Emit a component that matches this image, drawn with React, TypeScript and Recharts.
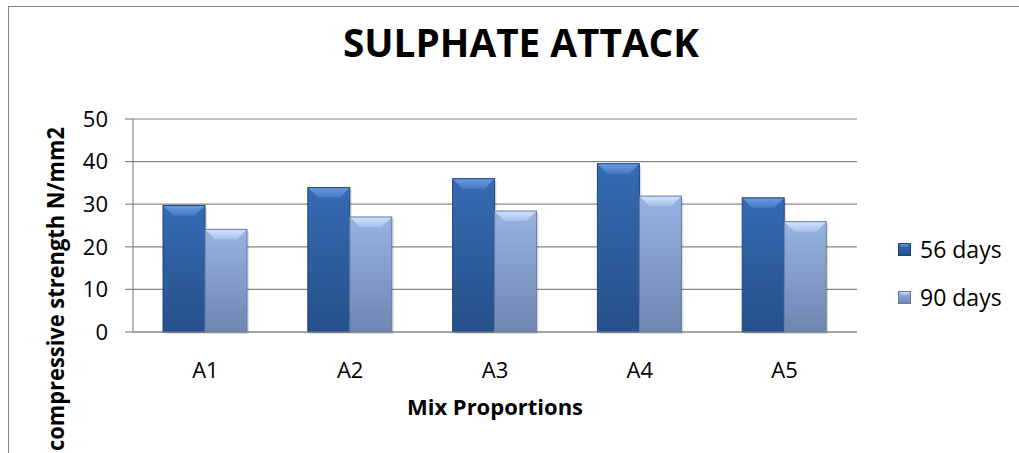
import { BarChart, Bar, XAxis, YAxis, CartesianGrid, Legend } from "recharts";

const categories = ["A1", "A2", "A3", "A4", "A5"];
const days56 = [29.7, 33.9, 36.0, 39.5, 31.5];
const days90 = [24.1, 27.0, 28.4, 31.9, 25.9];
const yTicks = [0, 10, 20, 30, 40, 50];

const data = categories.map((mix, i) => ({
  mix,
  d56: days56[i],
  d90: days90[i],
}));

const FONT = "'Open Sans', 'DejaVu Sans', sans-serif";
const AXIS = "#868686";

const STYLES: Record<string, { body: string; bevel: string; edge: string }> = {
  d56: { body: "url(#body56)", bevel: "url(#bevel56)", edge: "#1f4578" },
  d90: { body: "url(#body90)", bevel: "url(#bevel90)", edge: "#6579a3" },
};

function BevelBar(props: any) {
  const { x, y, width, height, dataKey } = props;
  if (!height || height <= 0) return null;
  const s = STYLES[dataKey];
  const b = Math.min(10, height / 2);
  return (
    <g>
      <rect x={x + 2} y={y + 2} width={width} height={height} fill="#000" opacity={0.12} />
      <rect x={x} y={y} width={width} height={height} fill={s.body} />
      <polygon
        points={`${x},${y} ${x + width},${y} ${x + width - b},${y + b} ${x + b},${y + b}`}
        fill={s.bevel}
      />
      <rect x={x} y={y} width={width} height={height} fill="none" stroke={s.edge} strokeWidth={1} />
    </g>
  );
}

function LegendBox({ payload }: any) {
  return (
    <div style={{ fontFamily: FONT, fontSize: 23, color: "#000" }}>
      {(payload || []).map((p: any) => {
        const s = STYLES[p.dataKey];
        return (
          <div key={p.dataKey} style={{ display: "flex", alignItems: "center", height: 48 }}>
            <svg width={13} height={13} style={{ marginRight: 9 }}>
              <rect x={0} y={0} width={13} height={13} fill={s.body} />
              <polygon points="0,0 13,0 9,4 4,4" fill={s.bevel} />
              <rect x={0.5} y={0.5} width={12} height={12} fill="none" stroke={s.edge} />
            </svg>
            <span>{p.value}</span>
          </div>
        );
      })}
    </div>
  );
}

function YTitle(props: any) {
  const { viewBox } = props;
  const bx = viewBox.x + 64;
  return (
    <text
      x={bx}
      y={127}
      transform={`rotate(-90, ${bx}, 127)`}
      textAnchor="end"
      fontFamily={FONT}
      fontWeight="bold"
      fontSize={24}
      textLength={324}
      lengthAdjust="spacingAndGlyphs"
      fill="#000"
    >
      compressive strength N/mm2
    </text>
  );
}

function XTitle(props: any) {
  const { viewBox } = props;
  return (
    <text
      x={viewBox.x + viewBox.width / 2}
      y={viewBox.y + 83}
      textAnchor="middle"
      fontFamily={FONT}
      fontWeight="bold"
      fontSize={22}
      fill="#000"
    >
      Mix Proportions
    </text>
  );
}

export default function App() {
  return (
    <div
      style={{
        position: "absolute",
        left: 0,
        top: 0,
        width: 1019,
        height: 453,
        background: "#fff",
        fontFamily: FONT,
        overflow: "hidden",
      }}
    >
      <div
        style={{
          position: "absolute",
          left: 8,
          top: 6,
          right: -2,
          bottom: -2,
          borderTop: `1px solid ${AXIS}`,
          borderLeft: `1px solid ${AXIS}`,
        }}
      />
      <svg width={1019} height={80} style={{ position: "absolute", left: 0, top: 0 }}>
        <text
          x={521}
          y={57}
          textAnchor="middle"
          fontFamily={FONT}
          fontWeight="bold"
          fontSize={39}
          textLength={356}
          lengthAdjust="spacingAndGlyphs"
          fill="#000"
        >
          SULPHATE ATTACK
        </text>
      </svg>
      <div style={{ position: "absolute", left: 0, top: 0 }}>
        <BarChart
          width={1019}
          height={453}
          data={data}
          margin={{ top: 119, right: 162, bottom: 61, left: 0 }}
          barSize={42}
          barGap={0}
        >
          <defs>
            <linearGradient id="body56" x1="0" y1="0" x2="0" y2="1">
              <stop offset="0%" stopColor="#356bb3" />
              <stop offset="100%" stopColor="#26508a" />
            </linearGradient>
            <linearGradient id="bevel56" x1="0" y1="0" x2="0" y2="1">
              <stop offset="0%" stopColor="#6a9be0" />
              <stop offset="100%" stopColor="#457bc4" />
            </linearGradient>
            <linearGradient id="body90" x1="0" y1="0" x2="0" y2="1">
              <stop offset="0%" stopColor="#97b3e2" />
              <stop offset="100%" stopColor="#6f85b2" />
            </linearGradient>
            <linearGradient id="bevel90" x1="0" y1="0" x2="0" y2="1">
              <stop offset="0%" stopColor="#d3e4fa" />
              <stop offset="100%" stopColor="#a5c0ea" />
            </linearGradient>
          </defs>
          <CartesianGrid vertical={false} stroke={AXIS} strokeWidth={1.2} />
          <XAxis
            dataKey="mix"
            height={60}
            axisLine={{ stroke: AXIS, strokeWidth: 1.2 }}
            tickLine={false}
            tickSize={0}
            tickMargin={30}
            tick={{ fill: "#000", fontSize: 22, fontFamily: FONT }}
            label={<XTitle />}
          />
          <YAxis
            width={133}
            domain={[0, 50]}
            ticks={yTicks}
            axisLine={{ stroke: AXIS, strokeWidth: 1.2 }}
            tickLine={{ stroke: AXIS, strokeWidth: 1.2 }}
            tickSize={8}
            tickMargin={17}
            tick={{ fill: "#000", fontSize: 22, fontFamily: FONT }}
            label={<YTitle />}
          />
          <Legend
            layout="vertical"
            align="center"
            verticalAlign="middle"
            content={<LegendBox />}
            wrapperStyle={{ left: 898, top: 225, width: 120 }}
          />
          <Bar dataKey="d56" name="56 days" fill="#2f64a8" shape={<BevelBar />} isAnimationActive={false} />
          <Bar dataKey="d90" name="90 days" fill="#8ea8d6" shape={<BevelBar />} isAnimationActive={false} />
        </BarChart>
      </div>
    </div>
  );
}
